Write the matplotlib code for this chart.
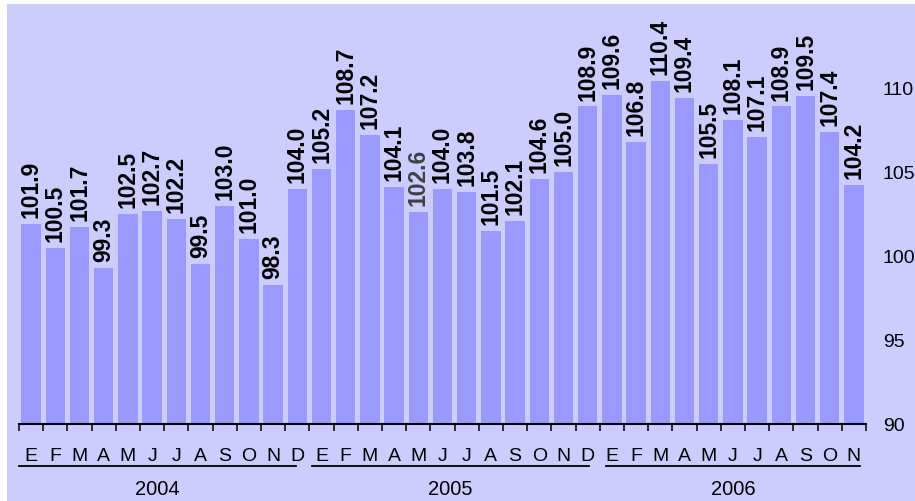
import matplotlib
matplotlib.use("Agg")
import matplotlib.pyplot as plt
from matplotlib.patches import Rectangle

plt.rcParams['font.family'] = ['Liberation Sans', 'DejaVu Sans']

# monthly index values, Jan 2004 - Nov 2006
values_2004 = [101.9, 100.5, 101.7, 99.3, 102.5, 102.7, 102.2, 99.5, 103.0, 101.0, 98.3, 104.0]
values_2005 = [105.2, 108.7, 107.2, 104.1, 102.6, 104.0, 103.8, 101.5, 102.1, 104.6, 105.0, 108.9]
values_2006 = [109.6, 106.8, 110.4, 109.4, 105.5, 108.1, 107.1, 108.9, 109.5, 107.4, 104.2]
months = ['E', 'F', 'M', 'A', 'M', 'J', 'J', 'A', 'S', 'O', 'N', 'D']
years = ['2004', '2005', '2006']
yticks = [90, 95, 100, 105, 110]

values = values_2004 + values_2005 + values_2006
month_labels = (months * 3)[:len(values)]
x = list(range(len(values)))

bg = '#CCCCFF'
bar_color = '#9999FF'

fig = plt.figure(figsize=(9.15, 5.02), dpi=100, facecolor='white')
fig.patches.append(Rectangle((7 / 915, 0), 1, 1 - 5 / 502, transform=fig.transFigure,
                             facecolor=bg, edgecolor='none', zorder=-10))

ax = fig.add_axes([19 / 915, 77 / 502, 847 / 915, 420 / 502])
ax.set_facecolor('none')
ax.bar(x, values, width=0.8, color=bar_color, bottom=0)
ax.set_xlim(-0.5, len(values) - 0.5)
ax.set_ylim(90, 115.0)

for i, v in enumerate(values):
    col = '#404040' if i == 16 else 'black'
    ax.annotate(f'{v:.1f}', (i, v), xytext=(0, 5), textcoords='offset points',
                rotation=90, ha='center', va='bottom', fontsize=16.5,
                fontweight='bold', color=col)

for s in ['top', 'left', 'right']:
    ax.spines[s].set_visible(False)
ax.spines['bottom'].set_linewidth(1.5)

ax.set_xticks([i - 0.5 for i in range(len(values) + 1)])
ax.set_xticklabels([])
ax.tick_params(axis='x', length=5, width=1.1, direction='out')

ax.yaxis.tick_right()
ax.set_yticks(yticks)
ax.set_yticklabels([str(t) for t in yticks])
ax.tick_params(axis='y', length=0, pad=12, labelsize=14)

trans = ax.get_xaxis_transform()
for i, m in enumerate(month_labels):
    ax.text(i, -0.074, m, transform=trans, ha='center', va='center', fontsize=14)

spans = [(-0.5, 10.95), (11.6, 23.05), (23.75, 34.25)]
for (a, b), yr in zip(spans, years):
    ax.plot([a, b], [-0.1, -0.1], transform=trans, color='black', lw=1.3, clip_on=False)
    ax.text((a + b) / 2, -0.153, yr, transform=trans, ha='center', va='center', fontsize=14.5)

fig.savefig('out.png', dpi=100, facecolor=fig.get_facecolor())
